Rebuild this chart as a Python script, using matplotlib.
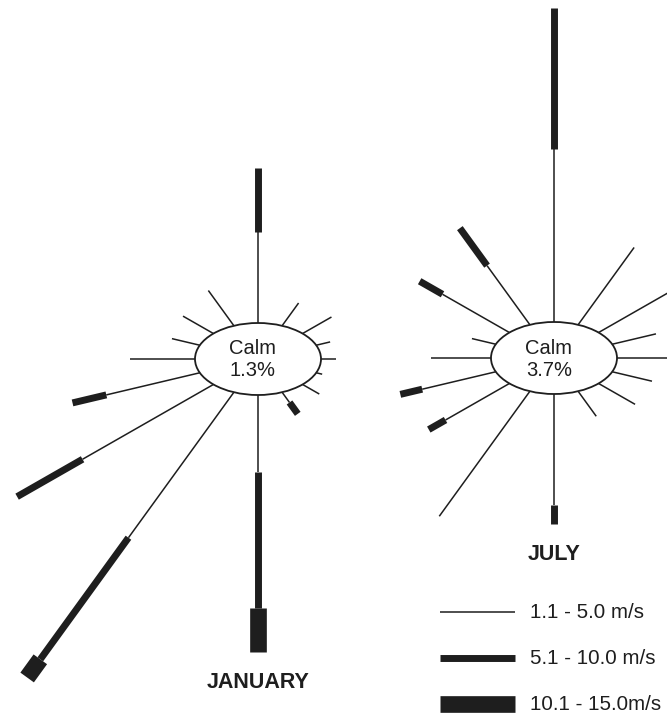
import numpy as np
import matplotlib.pyplot as plt
from matplotlib.patches import Ellipse

plt.rcParams['font.family'] = ['Liberation Sans', 'DejaVu Sans']

# 16 compass directions, clockwise from north
directions = ["N", "NNE", "NE", "ENE", "E", "ESE", "SE", "SSE",
              "S", "SSW", "SW", "WSW", "W", "WNW", "NW", "NNW"]
speed_classes = ["1.1 - 5.0 m/s", "5.1 - 10.0 m/s", "10.1 - 15.0m/s"]

# frequency (%) per direction and speed class
jan_low = [7.4, 2.0, 1.9, 0.7, 0.7, 0.3, 1.1, 0.9, 6.3, 12.8, 8.6, 4.7, 3.0, 1.4, 2.0, 3.1]
jan_mid = [5.2, 0, 0, 0, 0, 0, 0, 1.0, 11.0, 10.7, 4.3, 1.7, 0, 0, 0, 0]
jan_high = [0, 0, 0, 0, 0, 0, 0, 0, 3.6, 1.6, 0, 0, 0, 0, 0, 0]
jan_calm = 1.3

jul_low = [14.1, 6.8, 4.8, 2.2, 2.4, 2.0, 2.4, 2.2, 9.0, 11.0, 4.2, 3.7, 2.8, 1.2, 4.4, 5.2]
jul_mid = [11.4, 0, 0, 0, 0, 0, 0, 0, 1.6, 0, 1.1, 1.1, 0, 0, 1.5, 3.3]
jul_high = [0, 0, 0, 0, 0, 0, 0, 0, 0, 0, 0, 0, 0, 0, 0, 0]
jul_calm = 3.7

# drawing settings
XSTRETCH = 1.75      # roses are drawn stretched sideways
SCALE = 12.3         # length units per percent
R = 36               # radius of the calm circle (before stretch)
widths = [1.1, 5.0, 12.0]
ink = "#1e1e1e"


def px(x):
    return x / XSTRETCH


def draw_rose(ax, cx, cy, low, mid, high, calm, title, title_y):
    angles = np.deg2rad(np.arange(len(directions)) * 22.5)
    for a, segs in zip(angles, zip(low, mid, high)):
        r = R
        for val, lw in zip(segs, widths):
            if val <= 0:
                continue
            r2 = r + val * SCALE
            ax.plot([cx + r * np.sin(a), cx + r2 * np.sin(a)],
                    [cy - r * np.cos(a), cy - r2 * np.cos(a)],
                    color=ink, lw=lw, solid_capstyle="butt", zorder=2)
            r = r2
    ax.add_patch(Ellipse((cx, cy), 2 * R, 2 * R, facecolor="white",
                         edgecolor=ink, lw=1.3, zorder=3))
    ax.text(cx - px(5), cy + 1, "Calm\n" + f"{calm}%", ha="center", va="center",
            fontsize=14.5, color=ink, linespacing=1.2, zorder=4)
    ax.text(cx, title_y, title, ha="center", va="center", fontsize=15.5,
            fontweight="bold", color=ink)


fig = plt.figure(figsize=(6.67, 7.2), dpi=100)
ax = fig.add_axes([0, 0, 1, 1])
ax.set_xlim(0, px(667))
ax.set_ylim(720, 0)
ax.axis("off")

draw_rose(ax, px(258), 359, jan_low, jan_mid, jan_high, jan_calm, "JANUARY", 683)
draw_rose(ax, px(554), 358, jul_low, jul_mid, jul_high, jul_calm, "JULY", 555)

# legend
for i, (lab, lw) in enumerate(zip(speed_classes, widths)):
    y = 612 + i * 46
    ax.plot([px(440), px(515)], [y, y], color=ink, lw=lw, solid_capstyle="butt")
    ax.text(px(530), y, lab, ha="left", va="center", fontsize=14.8, color=ink)

fig.savefig("out.png", dpi=100, facecolor="white")
